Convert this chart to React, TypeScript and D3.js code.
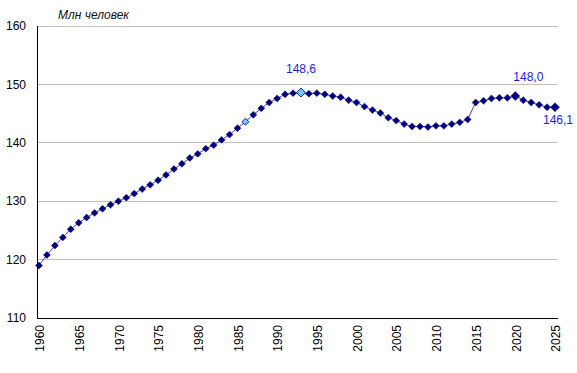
import React, { useEffect, useRef } from 'react';
import * as d3 from 'd3';

const years = d3.range(1960, 2026);

// млн человек, на начало года
const population = [
  119.0, 120.8, 122.4, 123.8, 125.2, 126.3, 127.2, 128.0, 128.7, 129.4,
  130.0, 130.6, 131.3, 132.1, 132.8, 133.6, 134.5, 135.5, 136.4, 137.4,
  138.1, 139.0, 139.6, 140.5, 141.4, 142.5, 143.6, 144.8, 145.9, 146.9,
  147.6, 148.3, 148.5, 148.6, 148.4, 148.5, 148.3, 148.0, 147.8, 147.3,
  146.9, 146.2, 145.6, 145.1, 144.3, 143.8, 143.2, 142.8, 142.8, 142.7,
  142.9, 142.9, 143.2, 143.5, 144.0, 146.9, 147.2, 147.6, 147.7, 147.7,
  148.0, 147.3, 146.9, 146.5, 146.1, 146.1
];

const yTicks = [110, 120, 130, 140, 150, 160];
const xTicks = d3.range(1960, 2026, 5);

const highlighted = [1986, 1993];
const bigMarkers = [1993, 2020, 2025];

const annotations = [
  { year: 1993, text: '148,6', dx: 0, dy: -20, anchor: 'middle' },
  { year: 2020, text: '148,0', dx: -2, dy: -15, anchor: 'start' },
  { year: 2025, text: '146,1', dx: 3, dy: 17, anchor: 'middle' }
];

export default function App() {
  const svgRef = useRef<SVGSVGElement>(null);

  useEffect(() => {
    if (!svgRef.current) return;
    const svg = d3.select(svgRef.current);
    svg.selectAll('*').remove();

    const left = 37, right = 558, top = 26, bottom = 318;

    const x = d3.scaleLinear().domain([1960, 2025]).range([39, 555]);
    const y = d3.scaleLinear().domain([110, 160]).range([bottom, top]);

    const data = years.map((yr, i) => ({ year: yr, value: population[i] }));

    // gridlines
    svg.append('g')
      .selectAll('line')
      .data(yTicks.filter(t => t > 110))
      .join('line')
      .attr('x1', left).attr('x2', right)
      .attr('y1', d => y(d)).attr('y2', d => y(d))
      .attr('stroke', '#c0c0c0').attr('stroke-width', 1)
      .attr('shape-rendering', 'crispEdges');

    // axes lines
    svg.append('line')
      .attr('x1', left).attr('x2', left).attr('y1', top).attr('y2', bottom)
      .attr('stroke', '#000').attr('shape-rendering', 'crispEdges');
    svg.append('line')
      .attr('x1', left).attr('x2', right).attr('y1', bottom).attr('y2', bottom)
      .attr('stroke', '#000').attr('shape-rendering', 'crispEdges');

    // y labels
    svg.append('g')
      .selectAll('text')
      .data(yTicks)
      .join('text')
      .attr('x', 26)
      .attr('y', d => y(d))
      .attr('dy', '0.35em')
      .attr('text-anchor', 'end')
      .style('font-family', 'Liberation Sans, Arial, sans-serif')
      .style('font-size', '12px')
      .attr('fill', '#000')
      .text(d => d);

    // x labels
    svg.append('g')
      .selectAll('text')
      .data(xTicks)
      .join('text')
      .attr('transform', d => `translate(${x(d) + 1},325) rotate(-90)`)
      .attr('dy', '0.35em')
      .attr('text-anchor', 'end')
      .style('font-family', 'Liberation Sans, Arial, sans-serif')
      .style('font-size', '12px')
      .attr('fill', '#000')
      .text(d => d);

    // title
    svg.append('text')
      .attr('x', 58).attr('y', 19)
      .style('font-family', 'Liberation Sans, Arial, sans-serif')
      .style('font-size', '12px')
      .style('font-style', 'italic')
      .attr('fill', '#111')
      .text('Млн человек');

    // line
    const line = d3.line<{ year: number; value: number }>()
      .x(d => x(d.year))
      .y(d => y(d.value));
    svg.append('path')
      .datum(data)
      .attr('d', line)
      .attr('fill', 'none')
      .attr('stroke', '#4040c0')
      .attr('stroke-width', 1);

    // markers
    const sym = d3.symbol().type(d3.symbolSquare);
    svg.append('g')
      .selectAll('path')
      .data(data)
      .join('path')
      .attr('d', d => sym.size(bigMarkers.includes(d.year) ? 40 : 24)())
      .attr('transform', d => `translate(${x(d.year)},${y(d.value)}) rotate(45)`)
      .attr('fill', d => highlighted.includes(d.year) ? '#66ccff' : '#000080')
      .attr('stroke', '#000080')
      .attr('stroke-width', d => highlighted.includes(d.year) ? 0.8 : 0.5);

    // value labels
    svg.append('g')
      .selectAll('text')
      .data(annotations)
      .join('text')
      .attr('x', d => x(d.year) + d.dx)
      .attr('y', d => y(population[years.indexOf(d.year)]) + d.dy)
      .attr('text-anchor', d => d.anchor)
      .style('font-family', 'Liberation Sans, Arial, sans-serif')
      .style('font-size', '12px')
      .attr('fill', '#1a1aff')
      .text(d => d.text);
  }, []);

  return (
    <svg
      ref={svgRef}
      width={577}
      height={373}
      style={{ display: 'block', position: 'absolute', left: 0, top: 0 }}
    />
  );
}
